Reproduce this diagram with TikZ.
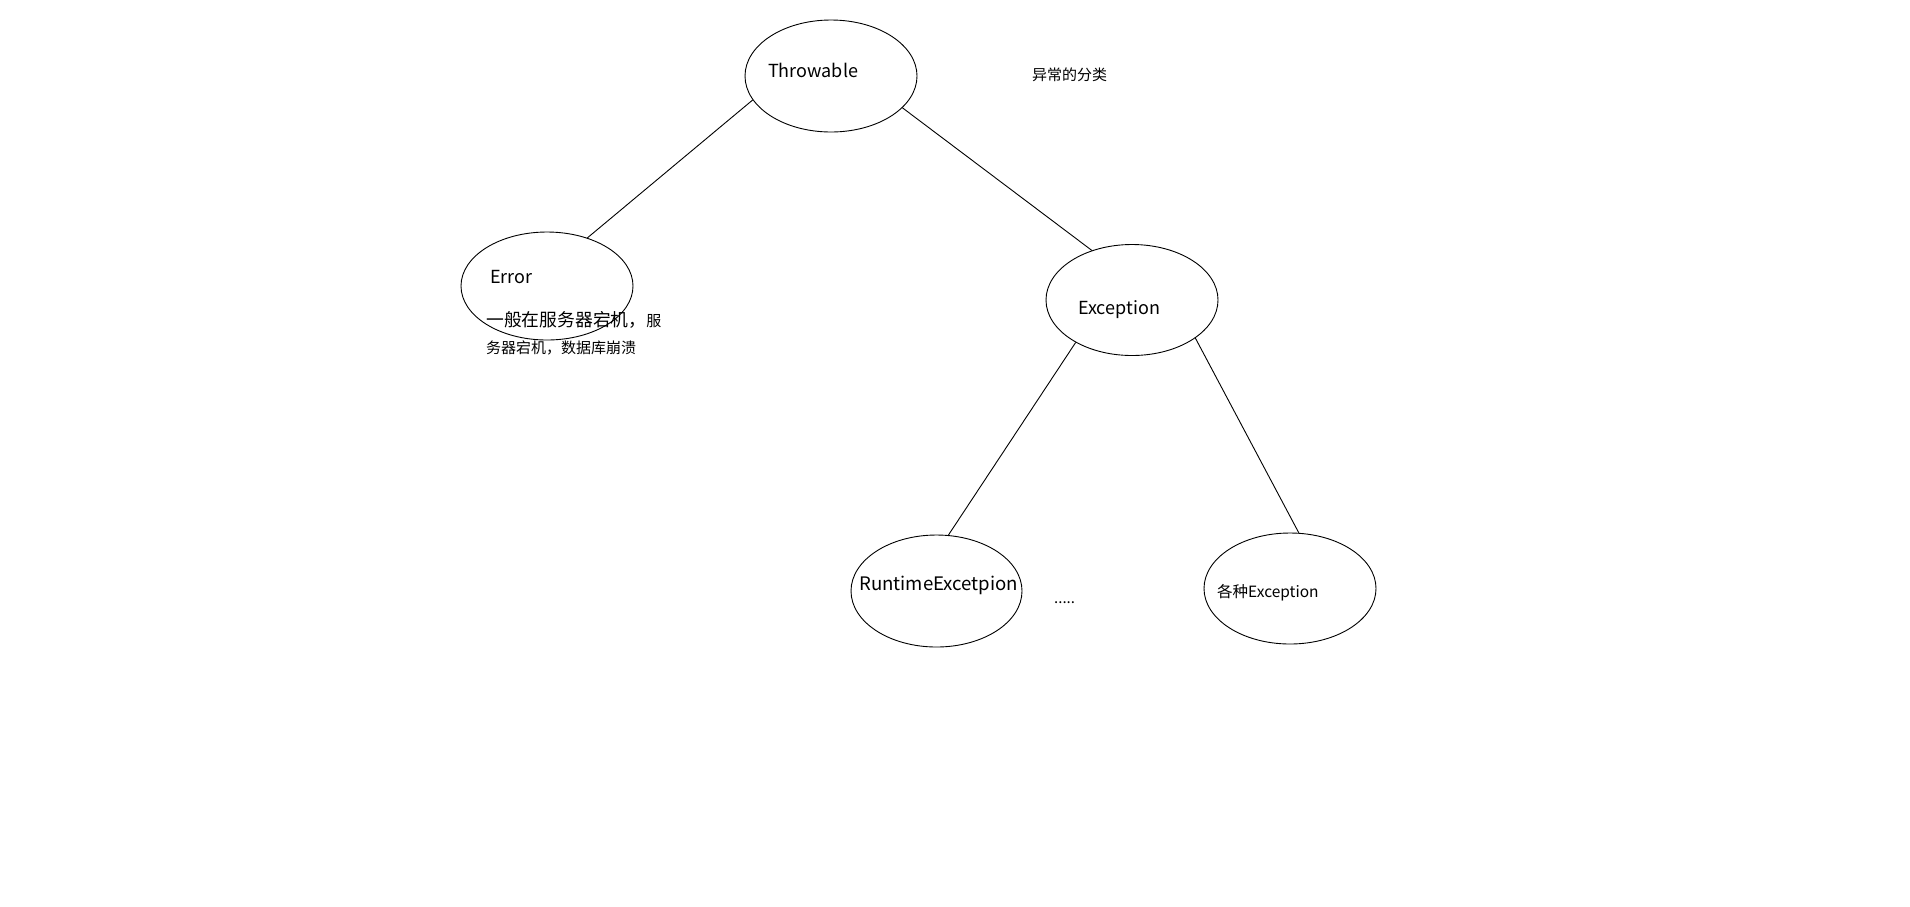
\documentclass[tikz,border=0pt]{standalone}
\usepackage{fontspec}
\setmainfont{Noto Sans CJK SC}
\usetikzlibrary{shapes.geometric}
\tikzset{
  oval/.style={draw=black, ellipse, line width=0.9pt, inner sep=0pt},
  lbl/.style={inner sep=0pt, anchor=west, text=black},
  conn/.style={draw=black, line width=0.9pt},
}
\newcommand{\fs}[1]{\fontsize{#1}{#1}\selectfont}
\begin{document}
\begin{tikzpicture}[x=1pt,y=-1pt]
\useasboundingbox[fill=white] (0,0) rectangle (1910,906);
% ellipses
\node[oval, minimum width=172pt, minimum height=112pt] (throw) at (831,76) {};
\node[oval, minimum width=172pt, minimum height=108pt] (err) at (547,286) {};
\node[oval, minimum width=172pt, minimum height=111pt] (exc) at (1132,300) {};
\node[oval, minimum width=171pt, minimum height=112pt] (rt) at (936.5,591) {};
\node[oval, minimum width=172pt, minimum height=111pt] (various) at (1290,588.5) {};
% labels
\node[lbl] (tthrow) at (768,70) {\fs{18}Throwable};
\node[lbl] (title) at (1032,75) {\fs{15}异常的分类};
\node[lbl] (terr) at (490,277) {\fs{18}Error};
\node[lbl, anchor=base west] (note1) at (486,326) {\fs{17.8}一般在服务器宕机，\fs{15}服};
\node[lbl, anchor=base west] (note2) at (486,353) {\fs{15}务器宕机，数据库崩溃};
\node[lbl] (texc) at (1078,310) {\fs{18}Exception};
\node[lbl] (trt) at (859,585) {\fs{18.6}RuntimeExcetpion};
\node[lbl, anchor=base west] (dots) at (1054,603) {\fs{15}.....};
\node[lbl] (tvar) at (1217,593) {\fs{15.5}各种Exception};
% connectors
\draw[conn] (throw.197) -- (err.50);
\draw[conn] (throw.-24) -- (exc.129);
\draw[conn] (exc.217) -- (rt.78);
\draw[conn] (exc.-31) -- (various.81);
\end{tikzpicture}
\end{document}
